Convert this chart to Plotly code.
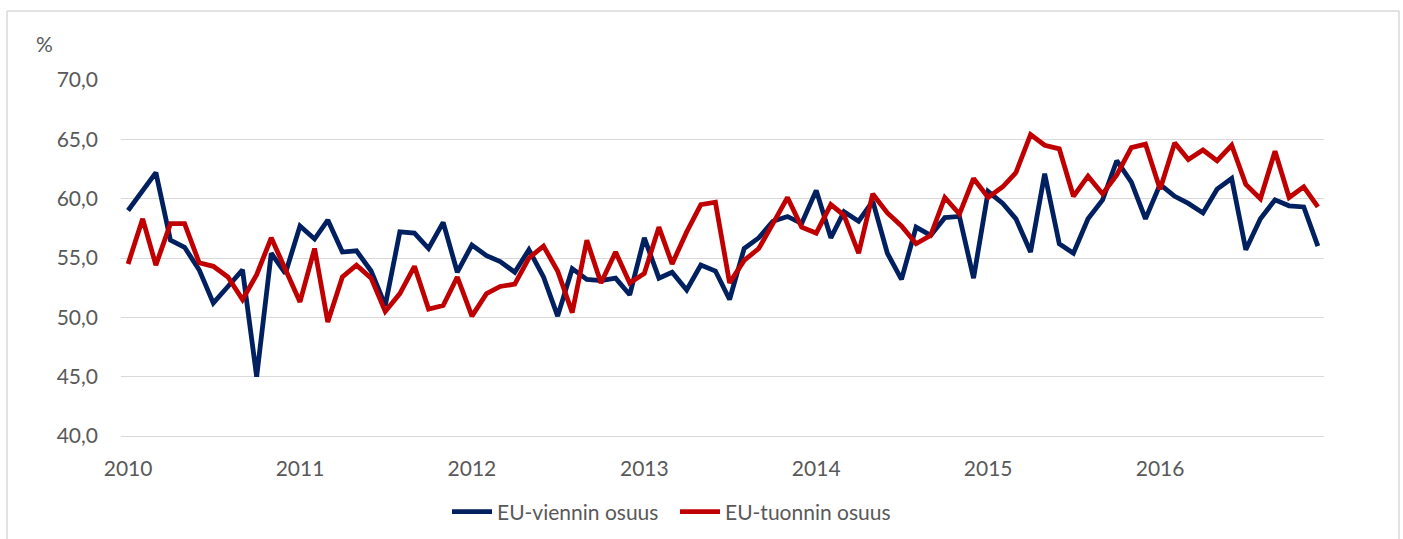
import pandas as pd
import plotly.graph_objects as go

months = pd.date_range("2010-01-01", "2016-12-01", freq="MS")

eu_vienti = [
    59.0, 60.6, 62.2, 56.5, 55.9, 54.0, 51.2, 52.6, 54.0, 45.0,
    55.4, 53.7, 57.7, 56.6, 58.2, 55.5, 55.6, 53.9, 51.0, 57.2,
    57.1, 55.8, 58.0, 53.8, 56.1, 55.2, 54.7, 53.8, 55.7, 53.4,
    50.1, 54.1, 53.2, 53.1, 53.3, 51.9, 56.7, 53.3, 53.8, 52.3,
    54.4, 53.9, 51.5, 55.8, 56.7, 58.1, 58.5, 57.9, 60.7, 56.7,
    58.9, 58.1, 59.8, 55.4, 53.2, 57.6, 56.9, 58.4, 58.5, 53.3,
    60.6, 59.6, 58.3, 55.5, 62.1, 56.2, 55.4, 58.3, 59.9, 63.2,
    61.4, 58.3, 61.2, 60.2, 59.6, 58.8, 60.8, 61.7, 55.7, 58.3,
    59.9, 59.4, 59.3, 56.0,
]

eu_tuonti = [
    54.5, 58.3, 54.4, 57.9, 57.9, 54.6, 54.3, 53.4, 51.5, 53.6,
    56.7, 54.0, 51.3, 55.8, 49.6, 53.4, 54.4, 53.3, 50.5, 52.0,
    54.3, 50.7, 51.0, 53.4, 50.1, 52.0, 52.6, 52.8, 55.0, 56.0,
    53.9, 50.4, 56.5, 52.9, 55.5, 52.9, 53.7, 57.6, 54.5, 57.2,
    59.5, 59.7, 52.9, 54.8, 55.8, 57.9, 60.1, 57.6, 57.1, 59.5,
    58.6, 55.4, 60.4, 58.8, 57.7, 56.2, 56.9, 60.1, 58.7, 61.7,
    60.1, 61.0, 62.2, 65.4, 64.5, 64.2, 60.2, 61.9, 60.4, 62.0,
    64.3, 64.6, 60.8, 64.7, 63.3, 64.1, 63.2, 64.5, 61.2, 60.0,
    64.0, 60.1, 61.0, 59.3,
]

year_ticks = pd.date_range("2010-01-01", "2016-01-01", freq="YS")
year_labels = ["2010", "2011", "2012", "2013", "2014", "2015", "2016"]
y_ticks = [40, 45, 50, 55, 60, 65, 70]
y_labels = ["40,0", "45,0", "50,0", "55,0", "60,0", "65,0", "70,0"]

FONT = "Lato, 'Open Sans', sans-serif"
GREY = "#595959"
GRID = "#d9d9d9"

fig = go.Figure()
fig.add_trace(go.Scatter(x=months, y=eu_vienti, mode="lines", name="EU-viennin osuus",
                         line=dict(color="#002060", width=4.8)))
fig.add_trace(go.Scatter(x=months, y=eu_tuonti, mode="lines", name="EU-tuonnin osuus",
                         line=dict(color="#C00000", width=4.8)))

# plot area pixel geometry
L, R, T, B = 121, 1324, 80, 436
W, H = R - L, B - T

def px(x):
    return (x - L) / W

def py(y):
    return (B - y) / H

fig.update_layout(
    width=1403, height=539,
    margin=dict(l=L, r=1403 - R, t=T, b=539 - B, autoexpand=False),
    paper_bgcolor="white", plot_bgcolor="white",
    font=dict(family=FONT, size=21, color=GREY),
    showlegend=True,
    legend=dict(orientation="h", x=px(447), xanchor="left", y=py(512), yanchor="middle",
                font=dict(family=FONT, size=21, color=GREY), itemwidth=40,
                bgcolor="rgba(0,0,0,0)", tracegroupgap=0, entrywidth=173),
    xaxis=dict(type="date", range=[pd.Timestamp("2009-12-17"), pd.Timestamp("2016-12-14")],
               tickvals=year_ticks, ticktext=year_labels, showgrid=False, zeroline=False,
               showline=True, linecolor=GRID, linewidth=1, ticks="",
               ticklabelstandoff=14,
               tickfont=dict(family=FONT, size=21, color=GREY)),
    yaxis=dict(range=[40, 70], tickvals=y_ticks, ticktext=y_labels, showgrid=True,
               gridcolor=GRID, gridwidth=1.3, zeroline=False, showline=False, ticks="",
               ticklabelstandoff=22,
               tickfont=dict(family=FONT, size=21, color=GREY)),
    annotations=[dict(text="%", xref="paper", yref="paper", x=px(44), y=py(44),
                      xanchor="center", yanchor="middle", showarrow=False,
                      font=dict(family=FONT, size=21, color=GREY))],
    shapes=[
        dict(type="line", xref="paper", yref="paper", x0=px(7), x1=px(7), y0=py(11), y1=py(560),
             line=dict(color=GRID, width=1.5)),
        dict(type="line", xref="paper", yref="paper", x0=px(7), x1=px(1399), y0=py(11), y1=py(11),
             line=dict(color=GRID, width=1.5)),
        dict(type="line", xref="paper", yref="paper", x0=px(1399), x1=px(1399), y0=py(11), y1=py(560),
             line=dict(color=GRID, width=1.5)),
    ],
)

fig.write_html(
    "out.html",
    config={"displayModeBar": False},
    post_script="document.body.style.margin='0';document.body.style.overflow='hidden';",
)
